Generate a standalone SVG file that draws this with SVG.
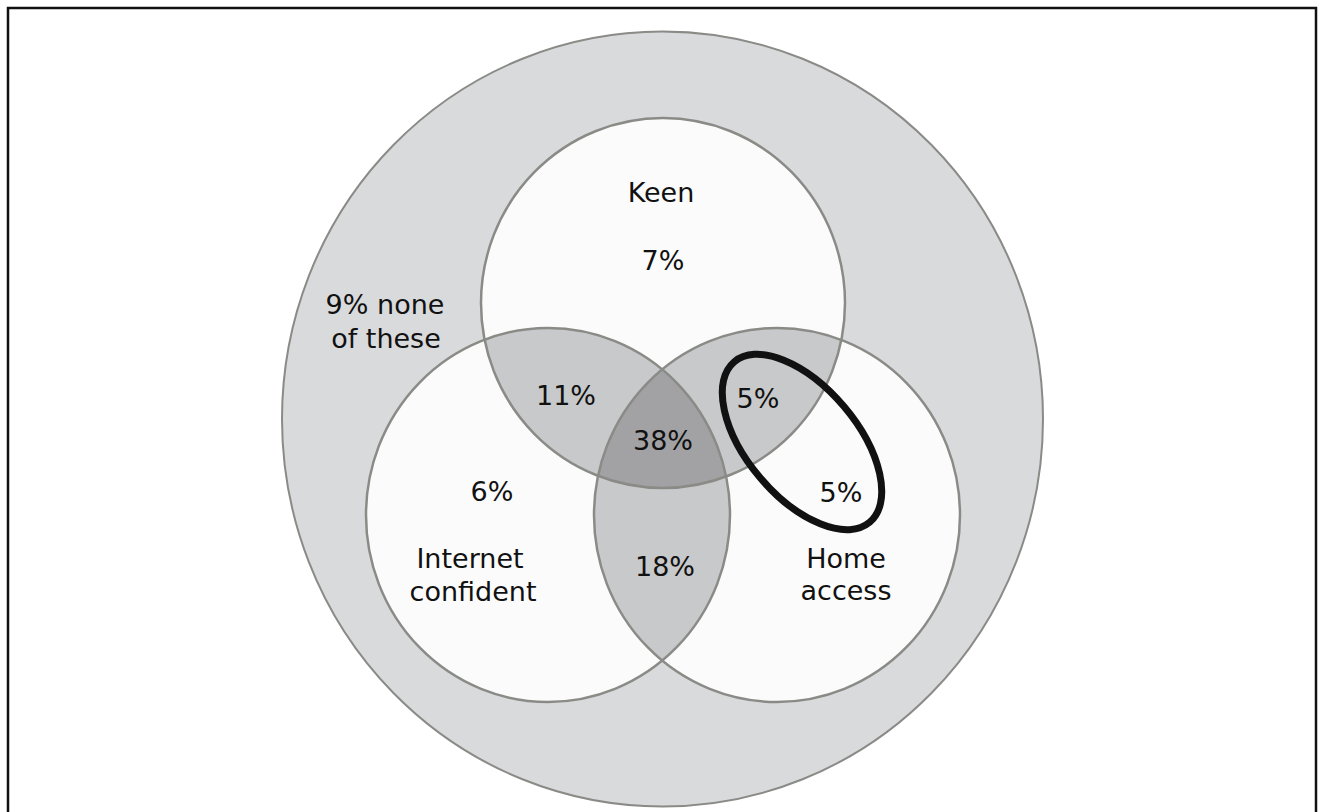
<svg xmlns="http://www.w3.org/2000/svg" width="1324" height="812" viewBox="0 0 1324 812">
<style>
.lbl{font-family:"DejaVu Sans","Noto Sans",sans-serif;font-size:27px;fill:#111;text-anchor:middle}
.ring{fill:none;stroke:#8a8a86;stroke-width:2.5}
.set{fill:#fbfbfb}
.two{fill:#c8c9cb}
.three{fill:#a2a2a4}
</style>
<defs>
<clipPath id="cK"><ellipse cx="663" cy="303" rx="182" ry="185"/></clipPath>
<clipPath id="cI"><ellipse cx="548" cy="515" rx="182" ry="187"/></clipPath>
<clipPath id="cH"><ellipse cx="777" cy="515" rx="183" ry="187"/></clipPath>
</defs>
<rect x="8" y="8" width="1308" height="812" fill="#fff" stroke="#111" stroke-width="2.5"/>
<g id="none">
<ellipse cx="662.5" cy="419" rx="380.5" ry="387.5" fill="#d9dadc" stroke="#8a8a86" stroke-width="2"/>
<text class="lbl" x="385" y="314">9% none</text>
<text class="lbl" x="386" y="348">of these</text>
</g>
<g id="fills">
<ellipse class="set" cx="663" cy="303" rx="182" ry="185"/>
<ellipse class="set" cx="548" cy="515" rx="182" ry="187"/>
<ellipse class="set" cx="777" cy="515" rx="183" ry="187"/>
<ellipse class="two" cx="548" cy="515" rx="182" ry="187" clip-path="url(#cK)"/>
<ellipse class="two" cx="777" cy="515" rx="183" ry="187" clip-path="url(#cK)"/>
<ellipse class="two" cx="777" cy="515" rx="183" ry="187" clip-path="url(#cI)"/>
<g clip-path="url(#cH)"><ellipse class="three" cx="548" cy="515" rx="182" ry="187" clip-path="url(#cK)"/></g>
</g>
<g id="keen">
<ellipse class="ring" cx="663" cy="303" rx="182" ry="185"/>
<text class="lbl" x="661" y="202">Keen</text>
<text class="lbl" x="663" y="270">7%</text>
</g>
<g id="internet-confident">
<ellipse class="ring" cx="548" cy="515" rx="182" ry="187"/>
<text class="lbl" x="492" y="501">6%</text>
<text class="lbl" x="470" y="568">Internet</text>
<text class="lbl" x="473" y="601">confident</text>
</g>
<g id="home-access">
<ellipse class="ring" cx="777" cy="515" rx="183" ry="187"/>
<text class="lbl" x="846" y="568">Home</text>
<text class="lbl" x="846" y="600">access</text>
</g>
<g id="overlaps">
<text class="lbl" x="566" y="405">11%</text>
<text class="lbl" x="663" y="450">38%</text>
<text class="lbl" x="665" y="576">18%</text>
<text class="lbl" x="758" y="408">5%</text>
<text class="lbl" x="841" y="502">5%</text>
</g>
<g id="highlight">
<ellipse cx="802" cy="442" rx="105" ry="55" transform="rotate(49.8 802 442)" fill="none" stroke="#111" stroke-width="7"/>
</g>
</svg>
